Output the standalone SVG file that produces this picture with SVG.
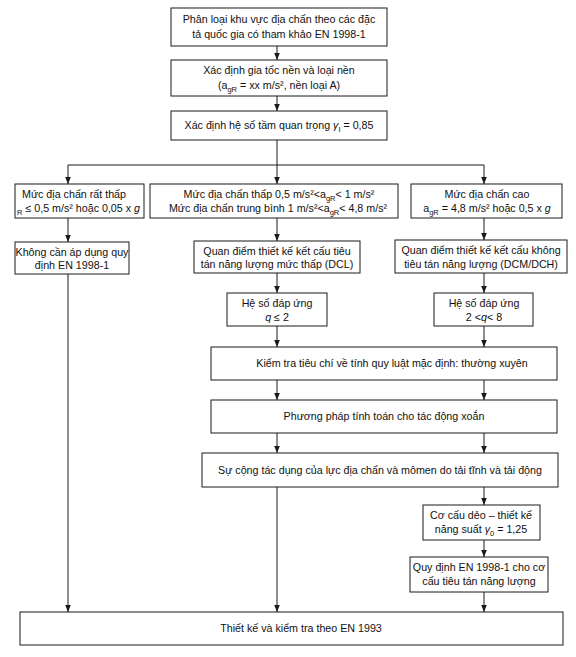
<svg xmlns="http://www.w3.org/2000/svg" width="576" height="657" viewBox="0 0 576 657">
<style>
  .box { fill: #ffffff; stroke: #1a1a1a; stroke-width: 1; }
  .t { font-family: "Liberation Sans", Arial, sans-serif; font-size: 10.7px; fill: #111111; text-anchor: middle; }
  .sub { font-size: 7.5px; }
  .it { font-style: italic; }
  .con { fill: none; stroke: #1a1a1a; stroke-width: 1; }
</style>
<defs>
  <marker id="ah" viewBox="0 0 10 10" refX="10" refY="5" markerWidth="7" markerHeight="7" markerUnits="userSpaceOnUse" orient="auto">
    <path d="M0,1 L10,5 L0,9 z" fill="#1a1a1a"/>
  </marker>
</defs>
<rect width="576" height="657" fill="#ffffff"/>

<g id="connectors">
  <path class="con" d="M277,46 V60" marker-end="url(#ah)"/>
  <path class="con" d="M277,96 V111" marker-end="url(#ah)"/>
  <path class="con" d="M277,140 V184" marker-end="url(#ah)"/>
  <path class="con" d="M277,165 H68 V184" marker-end="url(#ah)"/>
  <path class="con" d="M277,165 H484 V184" marker-end="url(#ah)"/>
  <path class="con" d="M68,218 V242" marker-end="url(#ah)"/>
  <path class="con" d="M277,218 V241" marker-end="url(#ah)"/>
  <path class="con" d="M484,218 V240" marker-end="url(#ah)"/>
  <path class="con" d="M68,274 V612" marker-end="url(#ah)"/>
  <path class="con" d="M277,273 V293" marker-end="url(#ah)"/>
  <path class="con" d="M484,273 V293" marker-end="url(#ah)"/>
  <path class="con" d="M277,326 V347" marker-end="url(#ah)"/>
  <path class="con" d="M484,326 V347" marker-end="url(#ah)"/>
  <path class="con" d="M277,380 V400" marker-end="url(#ah)"/>
  <path class="con" d="M484,380 V400" marker-end="url(#ah)"/>
  <path class="con" d="M277,433 V453" marker-end="url(#ah)"/>
  <path class="con" d="M484,433 V453" marker-end="url(#ah)"/>
  <path class="con" d="M277,487 V612" marker-end="url(#ah)"/>
  <path class="con" d="M484,487 V505" marker-end="url(#ah)"/>
  <path class="con" d="M484,540 V557" marker-end="url(#ah)"/>
  <path class="con" d="M484,592 V612" marker-end="url(#ah)"/>
</g>

<g id="n1">
  <rect class="box" x="171" y="8" width="216" height="38"/>
  <text class="t" x="279" y="23">Phân loại khu vực địa chấn theo các đặc</text>
  <text class="t" x="279" y="38">tả quốc gia có tham khảo EN 1998-1</text>
</g>
<g id="n2">
  <rect class="box" x="171" y="60" width="216" height="36"/>
  <text class="t" x="279" y="74">Xác định gia tốc nền và loại nền</text>
  <text class="t" x="279" y="89">(a<tspan class="sub" baseline-shift="-2.5">gR</tspan> = xx m/s², nền loại A)</text>
</g>
<g id="n3">
  <rect class="box" x="171" y="111" width="216" height="29"/>
  <text class="t" x="279" y="129">Xác định hệ số tầm quan trọng <tspan class="it">γ</tspan><tspan class="sub" baseline-shift="-2.5">I</tspan> = 0,85</text>
</g>

<g id="n4">
  <rect class="box" x="15" y="184" width="129" height="34"/>
  <text class="t" x="74" y="198">Mức địa chấn rất thấp</text>
  <text class="t" x="140" y="212" style="text-anchor:end"><tspan class="sub" baseline-shift="-2.5">R</tspan> ≤ 0,5 m/s² hoặc 0,05 x <tspan class="it">g</tspan></text>
</g>
<g id="n5">
  <rect class="box" x="150" y="184" width="248" height="34"/>
  <text class="t" x="279" y="198">Mức địa chấn thấp 0,5 m/s²&lt;a<tspan class="sub" baseline-shift="-2.5">gR</tspan>&lt; 1 m/s²</text>
  <text class="t" x="278" y="212">Mức địa chấn trung bình 1 m/s²&lt;a<tspan class="sub" baseline-shift="-2.5">gR</tspan>&lt; 4,8 m/s²</text>
</g>
<g id="n6">
  <rect class="box" x="411" y="184" width="151" height="34"/>
  <text class="t" x="487" y="198">Mức địa chấn cao</text>
  <text class="t" x="487" y="212">a<tspan class="sub" baseline-shift="-2.5">gR</tspan> = 4,8 m/s² hoặc 0,5 x <tspan class="it">g</tspan></text>
</g>

<g id="n7">
  <rect class="box" x="15" y="242" width="114" height="32"/>
  <text class="t" x="72" y="256">Không cần áp dụng quy</text>
  <text class="t" x="72" y="269">định EN 1998-1</text>
</g>
<g id="n8">
  <rect class="box" x="194" y="241" width="166" height="32"/>
  <text class="t" x="277" y="255">Quan điểm thiết kế kết cấu tiêu</text>
  <text class="t" x="277" y="268">tán năng lượng mức thấp (DCL)</text>
</g>
<g id="n9">
  <rect class="box" x="395" y="240" width="172" height="33"/>
  <text class="t" x="481" y="254">Quan điểm thiết kế kết cấu  không</text>
  <text class="t" x="481" y="268">tiêu tán năng lượng (DCM/DCH)</text>
</g>

<g id="n10">
  <rect class="box" x="227" y="293" width="100" height="33"/>
  <text class="t" x="277" y="307">Hệ số đáp ứng</text>
  <text class="t" x="277" y="321"><tspan class="it">q</tspan> ≤ 2</text>
</g>
<g id="n11">
  <rect class="box" x="434" y="293" width="99" height="33"/>
  <text class="t" x="484" y="307">Hệ số đáp ứng</text>
  <text class="t" x="484" y="321">2 &lt;<tspan class="it">q</tspan>&lt; 8</text>
</g>

<g id="n12">
  <rect class="box" x="211" y="347" width="346" height="33"/>
  <text class="t" x="392" y="367">Kiểm tra tiêu chí về tính quy luật mặc định: thường xuyên</text>
</g>
<g id="n13">
  <rect class="box" x="211" y="400" width="346" height="33"/>
  <text class="t" x="384" y="420">Phương pháp tính toán cho tác động xoắn</text>
</g>
<g id="n14">
  <rect class="box" x="202" y="453" width="356" height="34"/>
  <text class="t" x="380" y="474">Sự cộng tác dụng của lực địa chấn và mômen do tải tĩnh và tải động</text>
</g>

<g id="n15">
  <rect class="box" x="423" y="505" width="117" height="35"/>
  <text class="t" x="481" y="519">Cơ cấu dẻo – thiết kế</text>
  <text class="t" x="481" y="533">năng suất <tspan class="it">γ</tspan><tspan class="sub" baseline-shift="-2.5">0</tspan> = 1,25</text>
</g>
<g id="n16">
  <rect class="box" x="410" y="557" width="138" height="35"/>
  <text class="t" x="479" y="571">Quy định EN 1998-1 cho cơ</text>
  <text class="t" x="479" y="585">cấu tiêu tán năng lượng</text>
</g>

<g id="n17">
  <rect class="box" x="20" y="612" width="543" height="33"/>
  <text class="t" x="301" y="632">Thiết kế và kiểm tra theo EN 1993</text>
</g>
</svg>
